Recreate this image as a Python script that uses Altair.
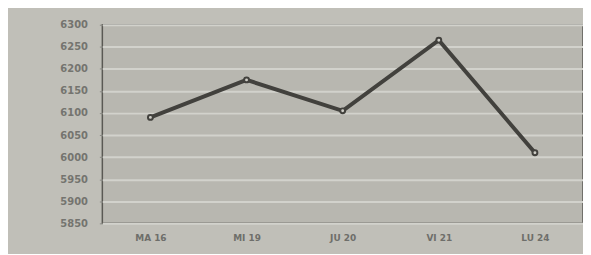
import altair as alt
import pandas as pd

days = ["MA 16", "MI 19", "JU 20", "VI 21", "LU 24"]
values = [6090, 6175, 6105, 6265, 6010]
y_ticks = [5850, 5900, 5950, 6000, 6050, 6100, 6150, 6200, 6250, 6300]

df = pd.DataFrame({"day": days, "value": values})

x = alt.X("day:N", sort=days, title=None,
          scale=alt.Scale(type="point", padding=0.5),
          axis=alt.Axis(labelAngle=0, labelFont="DejaVu Sans", labelFontSize=9,
                        labelFontWeight="bold", labelColor="#6e6e6a",
                        labelPadding=10, ticks=False, domain=False, grid=False))
y = alt.Y("value:Q", title=None,
          scale=alt.Scale(domain=[5850, 6300], nice=False, zero=False),
          axis=alt.Axis(values=y_ticks, format="d", labelFont="DejaVu Sans", labelFontSize=10,
                        labelFontWeight="bold", labelColor="#74746f",
                        labelPadding=12, tickSize=3, tickColor="#8a8a85",
                        domain=False, gridColor="#d2d2cc", gridWidth=2))

line = alt.Chart(df).mark_line(color="#42413d", strokeWidth=4).encode(x=x, y=y)
pts = alt.Chart(df).mark_point(shape="circle", filled=True, size=24, fill="#cfcec7",
                               stroke="#42413d", strokeWidth=2, opacity=1).encode(x=x, y=y)

chart = (line + pts).properties(
    width=484, height=200,
    background="#c0bfb8",
    padding={"left": 95, "top": 16, "right": 0, "bottom": 30},
    autosize=alt.AutoSizeParams(type="none"),
).configure_view(
    fill="#b8b7b0", stroke="#5a5954", strokeWidth=1.5
)

chart.save("out.html", embed_options={"renderer": "svg", "actions": False})
